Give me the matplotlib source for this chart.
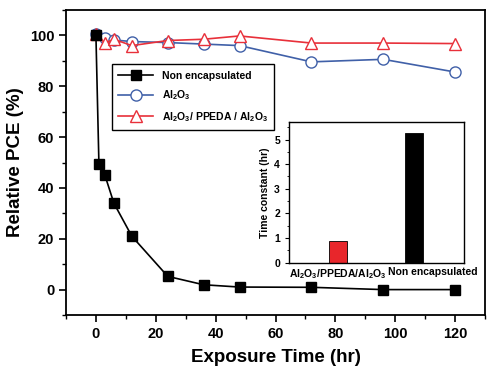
import matplotlib
matplotlib.use("Agg")
import matplotlib.pyplot as plt
import matplotlib.transforms as mtransforms

plt.rcParams['font.family'] = ['Liberation Sans', 'DejaVu Sans']
plt.rcParams['font.weight'] = 'bold'
plt.rcParams['mathtext.fontset'] = 'custom'
plt.rcParams['mathtext.bf'] = 'Liberation Sans:bold'
plt.rcParams['mathtext.rm'] = 'Liberation Sans:bold'

# Data
time_hr = [0, 1, 3, 6, 12, 24, 36, 48, 72, 96, 120]
non_encap = [100, 49.5, 45, 34, 21, 5.2, 1.9, 1.0, 0.9, 0, 0]
time_al = [0, 3, 6, 12, 24, 36, 48, 72, 96, 120]
al2o3 = [100.5, 98.8, 98.2, 97.6, 97.2, 96.6, 96.0, 89.6, 90.6, 85.6]
time_tri = [0, 3, 6, 12, 24, 36, 48, 72, 96, 120]
al_ppeda = [100.5, 97.0, 98.5, 96.0, 98.0, 98.5, 99.8, 97.0, 97.0, 96.8]

bar_labels = [r'Al$_\mathbf{2}$O$_\mathbf{3}$/PPEDA/Al$_\mathbf{2}$O$_\mathbf{3}$', 'Non encapsulated']
tau_hr = [0.9, 5.28]
bar_colors = ['#e8262b', 'black']

blue = '#4060a8'
red = '#e8303a'

fig = plt.figure(figsize=(5.0, 3.81), dpi=100)
ax = fig.add_axes([0.132, 0.1732, 0.838, 0.8005])

ax.plot(time_hr, non_encap, '-s', color='black', lw=1.2, ms=7.5,
        mfc='black', mec='black', label='Non encapsulated', zorder=3)
ax.plot(time_al, al2o3, '-o', color=blue, lw=1.2, ms=8,
        mfc='white', mec=blue, mew=1.0, label=r'Al$_\mathbf{2}$O$_\mathbf{3}$')
ax.plot(time_tri, al_ppeda, '-^', color=red, lw=1.2, ms=9,
        mfc='white', mec=red, mew=1.0,
        label=r'Al$_\mathbf{2}$O$_\mathbf{3}$/ PPEDA / Al$_\mathbf{2}$O$_\mathbf{3}$')

ax.set_xlim(-10, 130)
ax.set_ylim(-10, 110)
ax.set_xticks([0, 20, 40, 60, 80, 100, 120])
ax.set_xticks(range(-10, 131, 10), minor=True)
ax.set_yticks([0, 20, 40, 60, 80, 100])
ax.set_yticks(range(-10, 111, 10), minor=True)
ax.tick_params(which='major', direction='out', length=5, width=1.2, labelsize=10.5)
ax.tick_params(which='minor', direction='out', length=3, width=1.0)
for s in ax.spines.values():
    s.set_linewidth(1.3)
ax.set_xlabel('Exposure Time (hr)', fontsize=13.5, fontweight='bold', labelpad=6)
ax.set_ylabel('Relative PCE (%)', fontsize=13.5, fontweight='bold', labelpad=4)

leg = ax.legend(loc='upper left', bbox_to_anchor=(0.109, 0.822), borderaxespad=0,
                fontsize=7.5, handlelength=3.4, fancybox=False, framealpha=1,
                edgecolor='black', labelspacing=0.75, borderpad=0.6)
leg.get_frame().set_linewidth(1.0)

# inset
ins = fig.add_axes([0.578, 0.3105, 0.35, 0.3685])
ins.bar([0, 1], tau_hr, width=0.234, color=bar_colors, edgecolor='black', lw=0.6)
ins.set_xlim(-0.633, 1.645)
ins.set_ylim(0, 5.7)
ins.set_yticks([0, 1, 2, 3, 4, 5])
ins.set_yticks([0.5, 1.5, 2.5, 3.5, 4.5, 5.5], minor=True)
ins.set_xticks([0, 1])
ins.set_xticklabels(bar_labels, fontsize=7.5, fontweight='bold')
ins.tick_params(axis='x', length=0, pad=3)
ins.tick_params(axis='y', which='major', direction='out', length=3, labelsize=7.5)
ins.tick_params(axis='y', which='minor', direction='out', length=1.5)
ins.set_ylabel('Time constant (hr)', fontsize=7.5, fontweight='bold', labelpad=3)
off = mtransforms.ScaledTranslation(0.18, 0, fig.dpi_scale_trans)
lab = ins.get_xticklabels()[1]
lab.set_transform(lab.get_transform() + off)
for s in ins.spines.values():
    s.set_linewidth(1.0)

fig.savefig('out.png', dpi=100)
